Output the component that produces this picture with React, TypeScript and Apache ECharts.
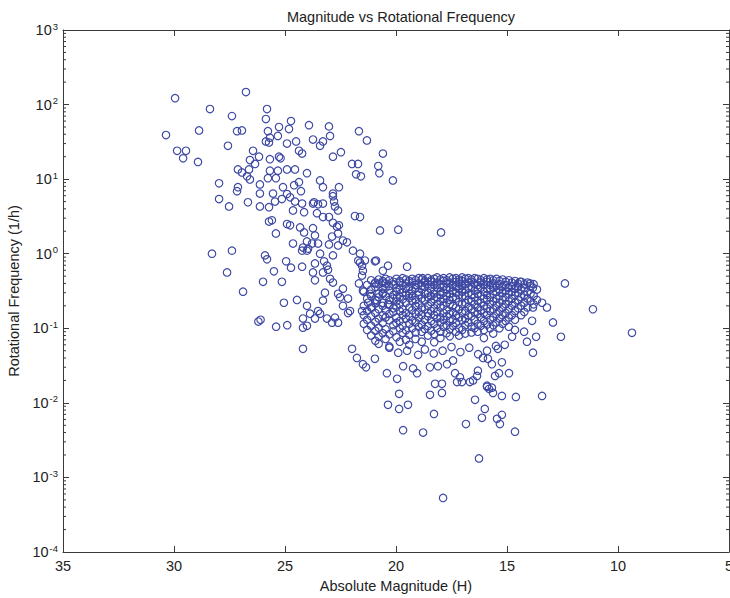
import React, { useEffect, useRef } from "react";
import * as echarts from "echarts";

// [Absolute magnitude H, rotational frequency (1/h)]
const brightGroup: number[][] = [
  [29.95, 122], [26.76, 147], [28.38, 87], [30.36, 39], [28.87, 45], [27.39, 70], [25.81, 87], [25.86, 64],
  [29.86, 24], [29.46, 24], [29.59, 19], [28.92, 17], [27.57, 28], [27.16, 44], [26.94, 45], [25.77, 44],
  [25.68, 36], [25.27, 50], [25.32, 38], [25.72, 31], [25.86, 32], [24.73, 60], [24.82, 47], [24.91, 30],
  [24.5, 32], [24.37, 24], [24.23, 22], [23.92, 53], [23.74, 34], [23.42, 28], [23.29, 32], [23.02, 51],
  [22.97, 38], [22.84, 20], [22.48, 23], [21.67, 44], [21.31, 33], [20.59, 22], [20.14, 9.6], [26.44, 24],
  [26.58, 18], [26.35, 16], [26.17, 20], [25.68, 18.5], [25.27, 20], [25.2, 19], [25.68, 13], [25.32, 13],
  [25.77, 10.3], [25.41, 10.3], [27.12, 13.5], [26.94, 12.3], [26.71, 10.9], [26.58, 9.9], [26.62, 13.5],
  [27.97, 8.8], [27.97, 5.4], [27.52, 4.3], [27.12, 7.8], [27.16, 6.9], [26.67, 4.9], [26.13, 8.5],
  [26.13, 6.4], [26.13, 4.3], [25.72, 4.2], [24.91, 13.5], [24.55, 13.5], [24.01, 12], [23.42, 9.6],
  [23.29, 7.8], [22.84, 6.4], [21.98, 16], [21.71, 16], [21.58, 10.9], [21.8, 11.6], [25.09, 7.8],
  [24.91, 6.3], [24.59, 8.3], [24.37, 9.1], [24.28, 6.9], [24.77, 5.7], [25.54, 6.4], [25.45, 5.0],
  [25.14, 5.4], [24.55, 5.0], [24.64, 3.8], [24.23, 4.7], [24.14, 3.6], [23.74, 4.7], [23.69, 4.9],
  [23.51, 4.6], [23.29, 4.7], [22.84, 5.9], [22.79, 5.0], [22.75, 4.3], [22.57, 7.8], [22.61, 3.8],
  [23.56, 3.5], [23.29, 3.1], [23.02, 3.1], [22.84, 2.6], [22.66, 2.3], [22.57, 2.4], [21.85, 3.2],
  [21.62, 3.1], [20.72, 2.05], [25.72, 2.7], [25.59, 2.8], [25.41, 1.87], [24.91, 2.5], [24.77, 2.4],
  [24.32, 2.25], [24.14, 1.93], [24.01, 1.46], [23.96, 1.17], [23.74, 2.2], [23.78, 1.37], [23.65, 1.76],
  [24.64, 1.37], [24.23, 1.1], [24.19, 1.21], [24.01, 1.1], [23.51, 1.37], [23.42, 1.0], [23.02, 1.33],
  [22.88, 1.7], [22.61, 1.87], [22.39, 1.5], [22.61, 1.29], [22.21, 1.42], [23.24, 0.79], [23.11, 0.69],
  [22.84, 0.95], [21.94, 1.1], [21.62, 1.0], [21.62, 0.76], [21.4, 0.81], [21.49, 0.59], [20.95, 0.79],
  [20.59, 0.59], [20.36, 0.69], [28.29, 1.0], [27.39, 1.1], [27.61, 0.56], [26.89, 0.31], [25.9, 0.95],
  [25.81, 0.84], [25.5, 0.58], [25.99, 0.42], [25.14, 0.42], [24.95, 0.79], [24.73, 0.65], [24.23, 0.67],
  [23.65, 0.74], [23.74, 0.56], [23.65, 0.44], [23.29, 0.56], [23.06, 0.61], [22.97, 0.46], [22.84, 0.41],
  [25.05, 0.22], [24.46, 0.24], [24.01, 0.2], [23.87, 0.157], [23.29, 0.235], [23.51, 0.17], [23.11, 0.135],
  [22.39, 0.34], [22.52, 0.26], [22.16, 0.25], [22.07, 0.17], [22.75, 0.139], [21.67, 0.4], [21.49, 0.32],
  [20.95, 0.4], [21.17, 0.29], [20.86, 0.235], [20.59, 0.29], [20.36, 0.21], [19.95, 0.26],
  [20.8, 15], [20.75, 12], [19.9, 2.1], [17.97, 1.93], [26.2, 0.123], [26.1, 0.13], [25.4, 0.105],
  [24.9, 0.11], [24.19, 0.053]
];

const transitionGroup: number[][] = [
  [24.19, 0.135], [22.61, 0.119], [22.88, 0.119], [23.42, 0.157], [23.65, 0.135], [24.01, 0.108],
  [24.19, 0.102], [22.16, 0.16], [22.39, 0.2], [22.61, 0.29], [23.2, 0.3], [20.9, 0.81], [19.5, 0.67],
  [20.59, 0.41], [21.53, 0.69], [21.7, 0.81], [21.53, 0.51], [21.53, 0.17], [21.26, 0.22], [21.08, 0.19],
  [18.8, 0.47]
];

// Dense band: magnitude of each column, with the frequencies read in that column
const clusterH: number[] = [
  21.45, 21.3, 21.12, 20.93, 20.78, 20.6, 20.47, 20.3, 20.12, 19.98, 19.83, 19.7, 19.55, 19.4, 19.27,
  19.12, 18.98, 18.84, 18.7, 18.56, 18.42, 18.28, 18.15, 18.0, 17.86, 17.72, 17.58, 17.44, 17.3, 17.16,
  17.02, 16.88, 16.74, 16.6, 16.46, 16.32, 16.18, 16.04, 15.9, 15.76, 15.62, 15.48, 15.34, 15.2, 15.06,
  14.92, 14.78, 14.64, 14.5, 14.36, 14.22, 14.08, 13.94, 13.8, 13.65
];
const clusterF: number[][] = [
  [0.31, 0.2, 0.15, 0.115],
  [0.38, 0.25, 0.17, 0.13, 0.095],
  [0.44, 0.33, 0.27, 0.19, 0.145, 0.108, 0.08],
  [0.41, 0.36, 0.24, 0.215, 0.16, 0.122, 0.093, 0.068],
  [0.45, 0.39, 0.29, 0.26, 0.18, 0.135, 0.102, 0.078, 0.062],
  [0.43, 0.34, 0.3, 0.22, 0.2, 0.15, 0.118, 0.086],
  [0.46, 0.4, 0.35, 0.27, 0.175, 0.14, 0.097, 0.072],
  [0.44, 0.37, 0.32, 0.24, 0.205, 0.155, 0.128, 0.083, 0.057],
  [0.42, 0.39, 0.28, 0.25, 0.185, 0.165, 0.11, 0.091],
  [0.46, 0.35, 0.31, 0.23, 0.195, 0.14, 0.118, 0.076],
  [0.43, 0.41, 0.33, 0.265, 0.21, 0.17, 0.125, 0.1, 0.066],
  [0.47, 0.38, 0.3, 0.245, 0.18, 0.15, 0.108, 0.087],
  [0.45, 0.4, 0.34, 0.28, 0.22, 0.16, 0.135, 0.094, 0.07],
  [0.43, 0.36, 0.29, 0.255, 0.19, 0.145, 0.115, 0.082, 0.06],
  [0.46, 0.41, 0.32, 0.27, 0.23, 0.175, 0.128, 0.1],
  [0.44, 0.38, 0.35, 0.24, 0.2, 0.155, 0.12, 0.088, 0.072],
  [0.47, 0.4, 0.31, 0.28, 0.215, 0.165, 0.14, 0.105],
  [0.45, 0.37, 0.33, 0.25, 0.19, 0.15, 0.112, 0.09, 0.066],
  [0.43, 0.41, 0.36, 0.29, 0.235, 0.18, 0.13, 0.098],
  [0.47, 0.39, 0.3, 0.26, 0.2, 0.16, 0.145, 0.107, 0.08],
  [0.44, 0.42, 0.34, 0.27, 0.225, 0.17, 0.125, 0.093],
  [0.46, 0.38, 0.32, 0.29, 0.245, 0.185, 0.15, 0.115, 0.084, 0.065],
  [0.48, 0.41, 0.35, 0.26, 0.21, 0.165, 0.135, 0.1],
  [0.45, 0.39, 0.31, 0.28, 0.23, 0.19, 0.14, 0.12, 0.09, 0.074],
  [0.47, 0.43, 0.36, 0.3, 0.25, 0.2, 0.16, 0.13, 0.105],
  [0.44, 0.4, 0.33, 0.27, 0.22, 0.175, 0.145, 0.11, 0.086],
  [0.48, 0.41, 0.35, 0.29, 0.24, 0.21, 0.155, 0.125, 0.097, 0.078],
  [0.46, 0.38, 0.32, 0.26, 0.2, 0.165, 0.13, 0.108],
  [0.47, 0.42, 0.36, 0.3, 0.25, 0.19, 0.15, 0.118, 0.09],
  [0.45, 0.4, 0.34, 0.28, 0.225, 0.18, 0.14, 0.1, 0.08],
  [0.48, 0.43, 0.37, 0.31, 0.26, 0.21, 0.16, 0.128, 0.095],
  [0.46, 0.39, 0.33, 0.27, 0.22, 0.17, 0.135, 0.11, 0.085],
  [0.47, 0.41, 0.35, 0.295, 0.24, 0.195, 0.15, 0.12],
  [0.45, 0.42, 0.36, 0.28, 0.23, 0.18, 0.145, 0.105, 0.088],
  [0.47, 0.4, 0.32, 0.26, 0.21, 0.165, 0.13, 0.1],
  [0.46, 0.38, 0.34, 0.29, 0.235, 0.19, 0.155, 0.115, 0.09],
  [0.44, 0.41, 0.35, 0.27, 0.22, 0.175, 0.14, 0.108],
  [0.47, 0.39, 0.31, 0.25, 0.2, 0.16, 0.125, 0.095, 0.074],
  [0.45, 0.42, 0.34, 0.28, 0.24, 0.185, 0.15, 0.112],
  [0.46, 0.38, 0.33, 0.26, 0.21, 0.17, 0.13, 0.1],
  [0.44, 0.4, 0.35, 0.29, 0.23, 0.18, 0.14, 0.11, 0.085],
  [0.46, 0.37, 0.31, 0.25, 0.2, 0.155, 0.12],
  [0.43, 0.39, 0.33, 0.27, 0.22, 0.17, 0.135, 0.1],
  [0.45, 0.36, 0.3, 0.24, 0.19, 0.15, 0.115],
  [0.42, 0.38, 0.32, 0.26, 0.21, 0.16, 0.125],
  [0.44, 0.35, 0.29, 0.23, 0.18, 0.14, 0.105],
  [0.41, 0.37, 0.31, 0.25, 0.2, 0.15],
  [0.43, 0.34, 0.28, 0.22, 0.17, 0.13],
  [0.4, 0.36, 0.3, 0.24, 0.185],
  [0.42, 0.33, 0.26, 0.2, 0.15],
  [0.39, 0.35, 0.28, 0.22, 0.165],
  [0.41, 0.31, 0.25, 0.19],
  [0.37, 0.29, 0.23],
  [0.39, 0.27, 0.21],
  [0.33, 0.24]
];

const faintTail: number[][] = [
  [21.98, 0.053], [21.76, 0.04], [21.49, 0.033], [21.35, 0.03], [20.95, 0.039], [20.41, 0.025],
  [19.95, 0.021], [19.23, 0.029], [19.05, 0.025], [19.68, 0.031], [18.47, 0.03], [18.11, 0.031],
  [17.7, 0.033], [17.43, 0.037], [17.34, 0.025], [17.12, 0.022], [17.25, 0.019], [17.03, 0.019],
  [16.67, 0.019], [16.53, 0.02], [16.35, 0.023], [16.31, 0.027], [15.9, 0.017], [15.68, 0.016],
  [15.54, 0.023], [15.36, 0.025], [14.91, 0.025], [15.23, 0.035], [15.41, 0.053], [16.08, 0.04],
  [15.86, 0.039], [15.68, 0.033], [20.36, 0.0094], [19.86, 0.0083], [19.46, 0.0094], [19.86, 0.0132],
  [18.47, 0.0128], [17.93, 0.0136], [18.24, 0.018], [17.93, 0.018], [16.44, 0.011], [15.9, 0.0164],
  [15.81, 0.0154], [15.63, 0.0136], [15.23, 0.0124], [14.6, 0.012], [18.29, 0.0071], [16.13, 0.0063],
  [16.0, 0.0083], [15.45, 0.0061], [15.32, 0.0052], [15.23, 0.0069], [16.85, 0.0052], [19.68, 0.0043],
  [18.78, 0.004], [14.64, 0.0041], [16.26, 0.0018], [17.88, 0.00053], [13.42, 0.0124],
  [20.3, 0.055], [19.9, 0.047], [19.5, 0.05], [19.0, 0.044], [18.7, 0.052], [18.3, 0.046], [17.9, 0.05],
  [17.5, 0.056], [17.1, 0.048], [16.7, 0.055], [16.3, 0.045], [15.9, 0.05], [15.5, 0.058], [15.1, 0.06]
];

const faintRight: number[][] = [
  [12.39, 0.4], [11.13, 0.18], [9.37, 0.087], [14.64, 0.095], [14.77, 0.077], [14.1, 0.066],
  [13.69, 0.077], [13.83, 0.047], [14.23, 0.09], [13.87, 0.126], [12.93, 0.12], [12.57, 0.077],
  [13.2, 0.19], [13.42, 0.22], [13.83, 0.19], [13.83, 0.35], [13.96, 0.4], [14.41, 0.42]
];

const xTicks = [35, 30, 25, 20, 15, 10, 5];
const yDecades = [-4, -3, -2, -1, 0, 1, 2, 3];

const FONT = "'Liberation Sans', Arial, Helvetica, sans-serif";
const AXIS_COLOR = "#3a3a3a";
const MARK_COLOR = "#3d48a3";

export default function App() {
  const ref = useRef<HTMLDivElement>(null);
  useEffect(() => {
    if (!ref.current) return;
    const chart = echarts.init(ref.current, undefined, { renderer: "svg" });

    const minorTicks: number[][] = [];
    for (let i = 0; i < yDecades.length - 1; i++) {
      for (let k = 2; k <= 9; k++) minorTicks.push([20, k * Math.pow(10, yDecades[i])]);
    }

    const clusterPoints: number[][] = [];
    clusterH.forEach((h, i) => clusterF[i].forEach((f) => clusterPoints.push([h, f])));

    const allPoints = [...brightGroup, ...transitionGroup, ...clusterPoints, ...faintTail, ...faintRight];

    const tickStyle = { lineStyle: { color: AXIS_COLOR, width: 1 } };
    const xCommon = {
      type: "value" as const,
      min: 5,
      max: 35,
      interval: 5,
      inverse: true,
      splitLine: { show: false },
      axisLine: { show: true, onZero: false, lineStyle: { color: AXIS_COLOR, width: 1 } },
      axisTick: { show: true, inside: true, length: 6, ...tickStyle },
    };
    const yCommon = {
      type: "log" as const,
      logBase: 10,
      min: 1e-4,
      max: 1e3,
      splitLine: { show: false },
      axisLine: { show: true, onZero: false, lineStyle: { color: AXIS_COLOR, width: 1 } },
      axisTick: { show: true, inside: true, length: 6, ...tickStyle },
    };

    chart.setOption({
      animation: false,
      backgroundColor: "#ffffff",
      title: {
        text: "Magnitude vs Rotational Frequency",
        left: 396,
        top: 4,
        textAlign: "center",
        textStyle: { fontFamily: FONT, fontSize: 14.5, fontWeight: "normal", color: "#222" },
      },
      grid: { left: 63, right: 1, top: 30, bottom: 46, containLabel: false, outerBoundsMode: "none" },
      xAxis: [
        {
          ...xCommon,
          position: "bottom",
          name: "Absolute Magnitude (H)",
          nameLocation: "middle",
          nameGap: 26,
          nameTextStyle: { fontFamily: FONT, fontSize: 14.5, color: "#222" },
          axisLabel: {
            show: true,
            margin: 6,
            fontFamily: FONT,
            fontSize: 14.5,
            color: "#222",
            showMinLabel: true,
            showMaxLabel: true,
            formatter: (v: number) => (xTicks.includes(v) ? String(v) : ""),
          },
        },
        { ...xCommon, position: "top", axisLabel: { show: false }, name: "" },
      ],
      yAxis: [
        {
          ...yCommon,
          position: "left",
          name: "Rotational Frequency (1/h)",
          nameLocation: "middle",
          nameGap: 40,
          nameRotate: 90,
          nameTextStyle: { fontFamily: FONT, fontSize: 14.5, color: "#222" },
          axisLabel: {
            show: true,
            margin: 5,
            showMinLabel: true,
            showMaxLabel: true,
            formatter: (v: number) => {
              const e = Math.round(Math.log10(v));
              return `{b|10}{s|${e}}`;
            },
            rich: {
              b: { fontFamily: FONT, fontSize: 14.5, color: "#222", lineHeight: 20, verticalAlign: "middle" },
              s: { fontFamily: FONT, fontSize: 9.5, color: "#222", lineHeight: 20, verticalAlign: "top", padding: [1, 0, 0, 1] },
            },
          },
        },
        { ...yCommon, position: "right", axisLabel: { show: false }, name: "" },
      ],
      series: [
        {
          type: "scatter",
          xAxisIndex: 0,
          yAxisIndex: 0,
          symbol: "circle",
          symbolSize: 7.5,
          data: allPoints,
          itemStyle: { color: "rgba(0,0,0,0)", borderColor: MARK_COLOR, borderWidth: 1.15, opacity: 1 },
          emphasis: { disabled: true },
          silent: true,
        },
        {
          type: "custom",
          xAxisIndex: 0,
          yAxisIndex: 0,
          silent: true,
          clip: false,
          data: minorTicks,
          encode: { x: 0, y: 1 },
          renderItem: (params: any, api: any) => {
            const cs = params.coordSys;
            const y = api.coord([api.value(0), api.value(1)])[1];
            const style = { stroke: AXIS_COLOR, lineWidth: 1 };
            return {
              type: "group",
              children: [
                { type: "line", shape: { x1: cs.x, y1: y, x2: cs.x + 3, y2: y }, style },
                { type: "line", shape: { x1: cs.x + cs.width, y1: y, x2: cs.x + cs.width - 3, y2: y }, style },
              ],
            };
          },
        },
      ],
    });
    return () => chart.dispose();
  }, []);
  return (
    <div
      ref={ref}
      style={{ position: "fixed", left: 0, top: 0, width: 730, height: 598, background: "#fff" }}
    />
  );
}
